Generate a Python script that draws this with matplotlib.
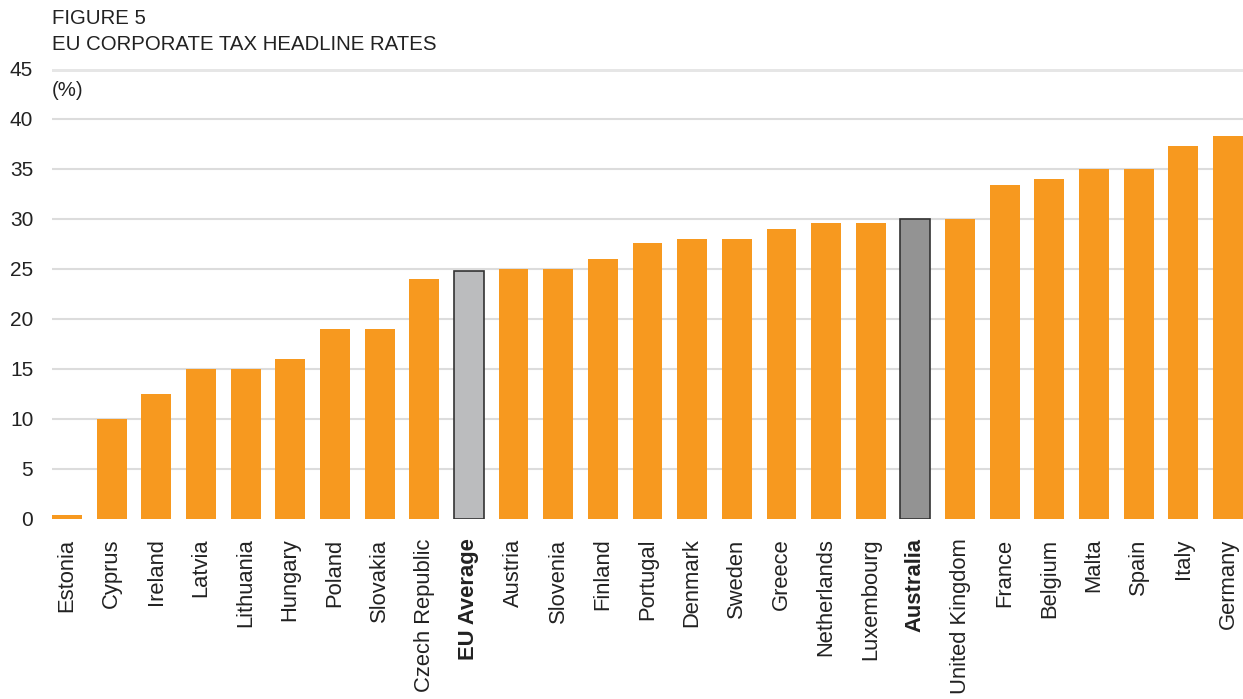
import matplotlib
matplotlib.use("Agg")
import matplotlib.pyplot as plt

countries = ["Estonia", "Cyprus", "Ireland", "Latvia", "Lithuania", "Hungary", "Poland",
             "Slovakia", "Czech Republic", "EU Average", "Austria", "Slovenia", "Finland",
             "Portugal", "Denmark", "Sweden", "Greece", "Netherlands", "Luxembourg",
             "Australia", "United Kingdom", "France", "Belgium", "Malta", "Spain", "Italy",
             "Germany"]
rates = [0.4, 10.0, 12.5, 15.0, 15.0, 16.0, 19.0, 19.0, 24.0, 24.8, 25.0, 25.0, 26.0,
         27.6, 28.0, 28.0, 29.0, 29.6, 29.6, 30.0, 30.0, 33.4, 34.0, 35.0, 35.0, 37.3, 38.3]
yticks = [0, 5, 10, 15, 20, 25, 30, 35, 40, 45]
highlight = {"EU Average": "#BBBCBE", "Australia": "#939393"}

plt.rcParams['font.family'] = ['Liberation Sans', 'DejaVu Sans']

W, H = 1243, 699
fig = plt.figure(figsize=(W / 100, H / 100), dpi=100)
ax = fig.add_axes([52 / W, 1 - 519 / H, 1 - 52 / W, (519 - 69) / H])

bw = 0.67
colors = [highlight.get(c, "#F7991F") for c in countries]
edges = ["#333333" if c in highlight else "#F7991F" for c in countries]
lws = [1.2 if c in highlight else 0.0 for c in countries]
x = list(range(len(countries)))
ax.bar(x, rates, width=bw, color=colors, edgecolor=edges, linewidth=lws, zorder=3)

for t in yticks[1:-1]:
    ax.axhline(t, color="#DCDCDC", lw=1.5, zorder=1)
ax.axhline(45, color="#E6E6E6", lw=3.6, zorder=1)

ax.set_xlim(-bw / 2, len(countries) - 1 + bw / 2)
ax.set_ylim(0, 45)
ax.set_yticks(yticks)
ax.set_yticklabels([str(t) for t in yticks], fontsize=15, color="#222222")
ax.tick_params(axis="y", length=0, pad=13.5)
ax.set_xticks(x)
ax.set_xticklabels(countries, rotation=90, fontsize=15.8, color="#222222", va="top", ha="center")
ax.tick_params(axis="x", length=0, pad=14)
for lbl in ax.get_xticklabels():
    if lbl.get_text() in highlight:
        lbl.set_fontweight("bold")
for s in ax.spines.values():
    s.set_visible(False)

fig.text(52 / W, 1 - 18 / H, "FIGURE 5", fontsize=14.7, color="#222222", va="center", ha="left")
fig.text(52 / W, 1 - 45 / H, "EU CORPORATE TAX HEADLINE RATES", fontsize=14.7, color="#222222",
         va="center", ha="left")
fig.text(52 / W, 1 - 90 / H, "(%)", fontsize=14.7, color="#222222", va="center", ha="left")

fig.savefig("out.png", dpi=100)
